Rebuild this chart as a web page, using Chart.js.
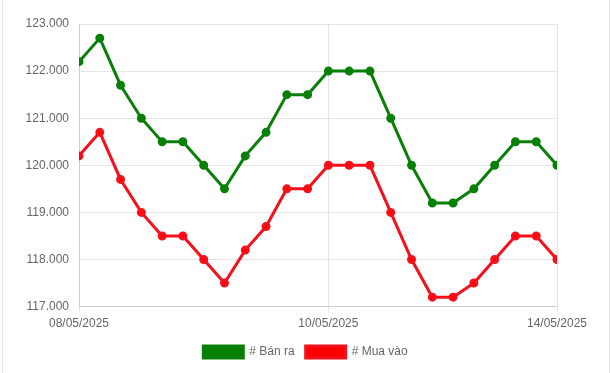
<!DOCTYPE html>
<html>
<head>
<meta charset="utf-8">
<script src="https://cdn.jsdelivr.net/npm/chart.js@4/dist/chart.umd.min.js"></script>
<style>
  html, body { margin: 0; padding: 0; background: #fff; }
  .wrap { position: relative; width: 611px; height: 373px; }
  canvas { position: absolute; left: 0; top: 0; }
  .edge { position: absolute; top: 0; width: 1px; height: 373px; background: #e6e6e6; }
</style>
</head>
<body>
<div class="wrap">
  <canvas id="goldChart" width="611" height="373"></canvas>
  <div class="edge" style="left:2px"></div>
  <div class="edge" style="left:609px"></div>
</div>
<script>
const banRa = [122.2, 122.7, 121.7, 121.0, 120.5, 120.5, 120.0, 119.5, 120.2, 120.7, 121.5, 121.5,
  122.0, 122.0, 122.0, 121.0, 120.0, 119.2, 119.2, 119.5, 120.0, 120.5, 120.5, 120.0];
const muaVao = [120.2, 120.7, 119.7, 119.0, 118.5, 118.5, 118.0, 117.5, 118.2, 118.7, 119.5, 119.5,
  120.0, 120.0, 120.0, 119.0, 118.0, 117.2, 117.2, 117.5, 118.0, 118.5, 118.5, 118.0];
const tickIndexes = [0, 12, 23];
const tickLabels = ["08/05/2025", "10/05/2025", "14/05/2025"];
const yTicks = [117, 118, 119, 120, 121, 122, 123];

Chart.defaults.font.family = "'Liberation Sans', Arial, sans-serif";
Chart.defaults.font.size = 12;
Chart.defaults.color = "#666";

// chuyen doi mang thanh diem {x, y}
const toPoints = (arr) => arr.map((v, i) => ({ x: i, y: v }));

const ctx = document.getElementById("goldChart").getContext("2d");
const chart = new Chart(ctx, {
  type: "line",
  data: {
    datasets: [
      {
        label: "# Bán ra",
        data: toPoints(banRa),
        borderColor: "#088008",
        backgroundColor: "#088008",
        borderWidth: 3,
        pointRadius: 3,
        tension: 0,
      },
      {
        label: "# Mua vào",
        data: toPoints(muaVao),
        borderColor: "#f5101c",
        backgroundColor: "#ff0000",
        borderWidth: 3,
        pointRadius: 3,
        tension: 0,
      },
    ],
  },
  options: {
    responsive: false,
    animation: false,
    layout: { padding: { left: 0, right: 0, top: 24, bottom: 5 } },
    plugins: {
      legend: {
        position: "bottom",
        labels: { boxWidth: 40, boxHeight: 12, padding: 11 },
      },
      tooltip: { enabled: false },
    },
    scales: {
      x: {
        type: "linear",
        min: 0,
        max: banRa.length - 1,
        afterBuildTicks: (axis) => {
          axis.ticks = tickIndexes.map((v) => ({ value: v }));
        },
        ticks: {
          autoSkip: false,
          maxRotation: 0,
          padding: 4,
          callback: (value) => tickLabels[tickIndexes.indexOf(value)] || "",
        },
        grid: { color: "rgba(0,0,0,0.1)", tickLength: 6 },
        border: { color: "rgba(0,0,0,0.1)" },
      },
      y: {
        min: 117,
        max: 123,
        afterBuildTicks: (axis) => {
          axis.ticks = yTicks.map((v) => ({ value: v }));
        },
        afterFit: (axis) => {
          axis.width = 79;
        },
        ticks: {
          padding: 10,
          callback: (value) => value.toFixed(3),
        },
        grid: { color: "rgba(0,0,0,0.1)", drawTicks: false },
        border: { color: "rgba(0,0,0,0.1)" },
      },
      // truc phu ben phai, chi de chua khoang trong
      yRight: {
        position: "right",
        display: true,
        min: 117,
        max: 123,
        afterFit: (axis) => {
          axis.width = 54;
        },
        ticks: { display: false },
        grid: { display: false },
        border: { display: false },
      },
    },
  },
});
</script>
</body>
</html>
